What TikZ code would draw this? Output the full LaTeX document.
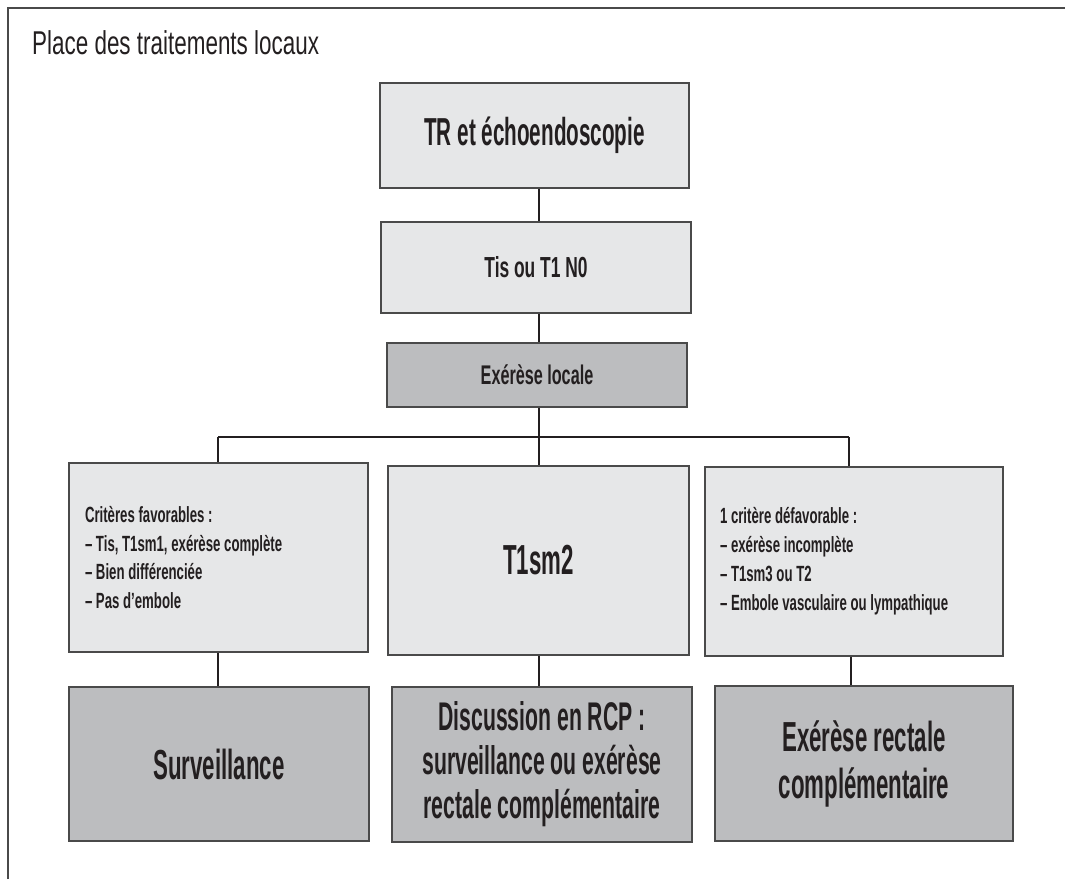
\documentclass[tikz,border=0pt]{standalone}
\usepackage{fontspec}
\newfontfamily\tfont{Liberation Sans}[FakeStretch=0.68]
\newfontfamily\bfont{Liberation Sans}[UprightFont=* Bold, FakeStretch=0.6]
\newfontfamily\cfont{Liberation Sans}[UprightFont=* Bold, FakeStretch=0.53]
\definecolor{lightbox}{HTML}{E6E7E8}
\definecolor{darkbox}{HTML}{BCBDBF}
\definecolor{edge}{HTML}{4A4A4A}
\definecolor{ink}{HTML}{231F20}
\tikzset{
  box/.style={draw=edge, line width=1.6pt, inner sep=0pt, text=ink, align=center},
  lbox/.style={box, fill=lightbox},
  dbox/.style={box, fill=darkbox},
  link/.style={draw=ink, line width=1.1pt},
  frame/.style={draw=edge, line width=2pt}
}
\begin{document}
\begin{tikzpicture}[x=1pt,y=-1pt]
\useasboundingbox (0,0) rectangle (1065,879);
% open frame
\draw[frame] (8,879) -- (8,8) -- (1065,8);
\node[anchor=base west, text=ink, inner sep=0pt, font=\tfont\fontsize{33}{36}\selectfont] (title) at (32,54) {Place des traitements locaux};

% top chain
\node[lbox, minimum width=309pt, minimum height=105pt, font=\cfont\fontsize{39}{42}\selectfont] (b1) at (534.5,135.5)
  {TR et échoendoscopie};
\node[lbox, minimum width=310pt, minimum height=91pt, font=\bfont\fontsize{29}{33}\selectfont] (b2) at (536,267.5)
  {Tis ou T1 N0};
\node[dbox, minimum width=300pt, minimum height=64pt, font=\bfont\fontsize{27}{31}\selectfont] (b3) at (537,375)
  {Exérèse locale};

% middle row
\node[lbox, minimum width=299pt, minimum height=189pt] (L) at (218.5,557.5)
  {\begin{minipage}{267pt}\bfont\fontsize{22}{28.5}\selectfont
   Critères favorables :\\
   – Tis, T1sm1, exérèse complète\\
   – Bien différenciée\\
   – Pas d’embole\end{minipage}};
\node[lbox, minimum width=301pt, minimum height=189pt, font=\cfont\fontsize{42}{46}\selectfont] (M) at (538.5,560.5)
  {T1sm2};
\node[lbox, minimum width=298pt, minimum height=189pt] (R) at (854,561.5)
  {\begin{minipage}{268pt}\bfont\fontsize{22}{29}\selectfont
   1 critère défavorable :\\
   – exérèse incomplète\\
   – T1sm3 ou T2\\
   – Embole vasculaire ou lympathique\end{minipage}};

% bottom row
\node[dbox, minimum width=300pt, minimum height=154pt, font=\cfont\fontsize{42}{46}\selectfont] (BL) at (219,764)
  {Surveillance};
\node[dbox, minimum width=300pt, minimum height=155pt, font=\cfont\fontsize{40}{44}\selectfont] (BM) at (542,764.5)
  {Discussion en RCP :\\ surveillance ou exérèse\\ rectale complémentaire};
\node[dbox, minimum width=298pt, minimum height=155pt, font=\cfont\fontsize{42}{47}\selectfont] (BR) at (864,763.5)
  {Exérèse rectale\\ complémentaire};

% connectors
\coordinate (trunk) at (539,0);
\coordinate (busL) at (218,437);
\coordinate (busR) at (849,437);
\coordinate (busM) at (539,437);
\draw[link] (b1.south -| trunk) -- (b2.north -| trunk);
\draw[link] (b2.south -| trunk) -- (b3.north -| trunk);
\draw[link] (b3.south -| trunk) -- (busM);
\draw[link] (busL) -- (busR);
\draw[link] (busL) -- (L.north -| busL);
\draw[link] (busM) -- (M.north -| busM);
\draw[link] (busR) -- (R.north -| busR);
\draw[link] (L.south -| busL) -- (BL.north -| busL);
\draw[link] (M.south -| busM) -- (BM.north -| busM);
\coordinate (rdrop) at (851,0);
\draw[link] (R.south -| rdrop) -- (BR.north -| rdrop);
\end{tikzpicture}
\end{document}
